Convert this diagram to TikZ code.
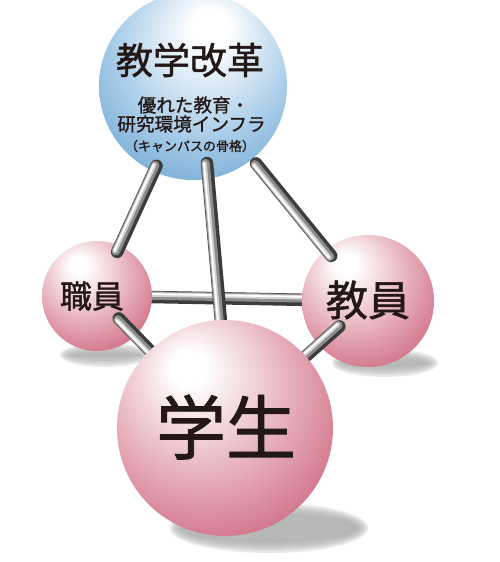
\documentclass[tikz,border=0pt]{standalone}
\usepackage{fontspec}
\setmainfont{Noto Sans CJK JP}[RawFeature={embolden=1.2}]
\usetikzlibrary{calc}
\definecolor{pinkdark}{HTML}{C44A67}
\definecolor{pinkmid}{HTML}{E5ABB6}
\definecolor{bluedark}{HTML}{5C9BCB}
\definecolor{bluemid}{HTML}{A8CCE8}
\definecolor{textc}{HTML}{231815}
\definecolor{shg}{HTML}{A6A8A7}
\definecolor{rodA}{HTML}{3C3C3C}
\definecolor{rodB}{HTML}{8C8C8C}
\definecolor{rodC}{HTML}{D2D2D2}
\pgfdeclareradialshading{pinkball}{\pgfpoint{-9bp}{15bp}}{color(0bp)=(white); color(4bp)=(white); color(22bp)=(pinkmid); color(43bp)=(pinkdark); color(60bp)=(pinkdark)}
\pgfdeclareradialshading{blueball}{\pgfpoint{5bp}{17bp}}{color(0bp)=(white); color(5bp)=(white); color(24bp)=(bluemid); color(42bp)=(bluedark); color(60bp)=(bluedark)}
\pgfdeclarelayer{bg}
\pgfdeclarelayer{spheres}
\pgfdeclarelayer{rods}
\pgfsetlayers{bg,spheres,rods,main}
\tikzset{
  orb/.style={circle, inner sep=0pt, draw=none},
  rodbase/.style={line width=12.5pt, rodA, line cap=round},
  rodmid/.style={line width=8.5pt, rodB, line cap=round},
  rodlight/.style={line width=4.5pt, rodC, line cap=round},
  rodhi/.style={line width=1.8pt, white, line cap=round},
  lbl/.style={text=textc, inner sep=0pt},
}
\newcommand\rodpair[2]{%
  \draw[rodbase] (#1) -- (#2);
  \draw[rodmid] ($(#1)!1.5pt!-90:(#2)$) -- ($(#2)!1.5pt!90:(#1)$);
  \draw[rodlight] ($(#1)!2.5pt!-90:(#2)$) -- ($(#2)!2.5pt!90:(#1)$);
  \draw[rodhi] ($(#1)!3pt!-90:(#2)$) -- ($(#2)!3pt!90:(#1)$);}
\newcommand\shadowell[4]{%
  \foreach \k in {1,...,6}{%
    \fill[shg, opacity=0.24] (#1,#2) ellipse ({#3+5-2*\k} and {#4+5-2*\k});}}
\begin{document}
\begin{tikzpicture}[x=1pt,y=-1pt]
\useasboundingbox (0,0) rectangle (500,562);
\clip (0,0) rectangle (500,562);
% spheres
\begin{pgfonlayer}{spheres}
\node[orb, minimum size=188pt, shading=blueball] (top) at (193,86) {};
\node[orb, minimum size=110pt, shading=pinkball] (shok) at (97,296) {};
\node[orb, minimum size=132pt, shading=pinkball] (kyo) at (368,301) {};
\end{pgfonlayer}
\node[orb, minimum size=216pt, shading=pinkball] (stu) at (225,428) {};
% background: shadows and horizontal rod
\begin{pgfonlayer}{bg}
\shadowell{269}{528}{96}{22}
\shadowell{105}{355}{42}{9}
\shadowell{385}{363}{50}{11}
\coordinate (h1) at ($(kyo)!0.2!(shok)$);
\coordinate (h2) at ($(shok)!0.2!(kyo)$);
\rodpair{h1}{h2}
\end{pgfonlayer}
% rods
\begin{pgfonlayer}{rods}
\coordinate (a1) at ($(top)!0.38!(shok)$);
\coordinate (a2) at ($(top)!0.79!(shok)$);
\coordinate (b1) at ($(top)!0.36!(kyo)$);
\coordinate (b2) at ($(top)!0.79!(kyo)$);
\coordinate (c1) at ($(top)+(14,77)$);
\coordinate (c2) at ($(stu)+(-3,-95)$);
\coordinate (d1) at ($(shok)!0.17!(stu)$);
\coordinate (d2) at ($(shok)!0.5!(stu)$);
\coordinate (e1) at ($(kyo)!0.2!(stu)$);
\coordinate (e2) at ($(kyo)!0.5!(stu)$);
\rodpair{a1}{a2}
\rodpair{b1}{b2}
\rodpair{c1}{c2}
\rodpair{d1}{d2}
\rodpair{e1}{e2}
\end{pgfonlayer}
% labels
\node[lbl, font=\fontsize{37}{37}\selectfont] (t0) at ($(top)+(-3,-26)$) {教学改革};
\node[lbl, font=\fontsize{18.6}{18.6}\selectfont] (t1) at ($(top)+(0.5,19)$) {優れた教育・};
\node[lbl, font=\fontsize{18.6}{18.6}\selectfont] (t2) at ($(top)+(-1.5,38)$) {研究環境インフラ};
\node[lbl, font=\fontsize{13}{13}\selectfont] (t3) at ($(top)+(-3,60)$) {（キャンパスの骨格）};
\node[lbl, font=\fontsize{32}{32}\selectfont] (ts) at ($(shok)+(-5,0)$) {職員};
\node[lbl, font=\fontsize{42}{42}\selectfont] (tk) at ($(kyo)+(0,-1)$) {教員};
\node[lbl, font=\fontsize{70}{70}\selectfont] (tg) at ($(stu)+(1,-1)$) {学生};
\end{tikzpicture}
\end{document}
